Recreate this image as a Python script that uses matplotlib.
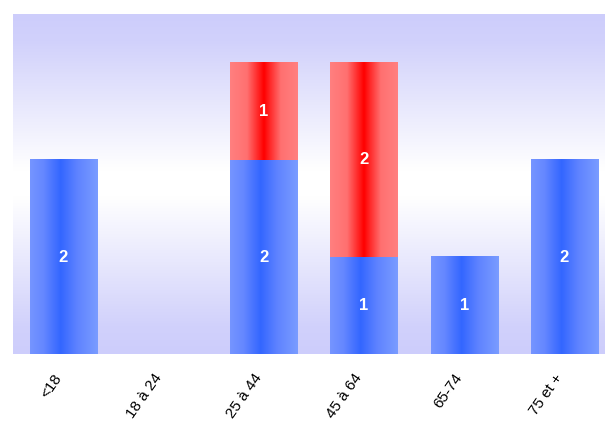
import numpy as np
import matplotlib.pyplot as plt
from matplotlib.colors import LinearSegmentedColormap
from matplotlib.transforms import ScaledTranslation

# données
categories = ['<18', '18 à 24', '25 à 44', '45 à 64', '65-74', '75 et +']
bleu = [2, 0, 2, 1, 1, 2]
rouge = [0, 0, 1, 2, 0, 0]

plt.rcParams['font.family'] = ['Liberation Sans', 'DejaVu Sans']

fig = plt.figure(figsize=(6.05, 4.28), dpi=100)
ax = fig.add_axes([13.4 / 605, (428 - 354.5) / 428, 601 / 605, 340.5 / 428])
ax.set_xlim(-0.5, len(categories) - 0.5)
ax.set_ylim(0, 3.5)

# fond dégradé vertical : lavande -> blanc -> lavande
fond = LinearSegmentedColormap.from_list(
    'fond', [(0, '#cdcdfc'), (0.08, '#d1d1fb'), (0.46, '#ffffff'), (0.54, '#ffffff'),
             (0.92, '#d1d1fb'), (1, '#cdcdfc')])
grad = np.linspace(0, 1, 256).reshape(-1, 1)
ax.imshow(grad, cmap=fond, aspect='auto', extent=(-0.5, len(categories) - 0.5, 0, 3.5),
          origin='lower', zorder=0)

cmap_bleu = LinearSegmentedColormap.from_list(
    'bleu', [(0, '#7595ff'), (0.2, '#6587ff'), (0.45, '#3366ff'), (0.7, '#5f83ff'), (1, '#7a9cff')])
cmap_rouge = LinearSegmentedColormap.from_list(
    'rouge', [(0, '#ff8080'), (0.25, '#ff7070'), (0.5, '#ff0000'), (0.75, '#ff7070'), (1, '#ff8080')])

largeur = 0.67
h = np.linspace(0, 1, 256).reshape(1, -1)


def barre(x, bas, haut, cmap):
    ax.imshow(h, cmap=cmap, aspect='auto', origin='lower', zorder=2,
              extent=(x - largeur / 2, x + largeur / 2, bas, haut))


for i, (b, r) in enumerate(zip(bleu, rouge)):
    if b > 0:
        barre(i, 0, b, cmap_bleu)
        ax.text(i, b / 2, str(b), color='white', fontweight='bold', fontsize=12,
                ha='center', va='center', zorder=3)
    if r > 0:
        barre(i, b, b + r, cmap_rouge)
        ax.text(i, b + r / 2, str(r), color='white', fontweight='bold', fontsize=12,
                ha='center', va='center', zorder=3)

ax.set_xlim(-0.5, len(categories) - 0.5)
ax.set_ylim(0, 3.5)
ax.set_xticks(range(len(categories)))
ax.set_xticklabels(categories, rotation=55, ha='right', va='center', rotation_mode='anchor',
                   fontsize=11)
ax.tick_params(axis='x', length=0, pad=15)
decal = ScaledTranslation(-5 / 100, 0, fig.dpi_scale_trans)
for lab in ax.get_xticklabels():
    lab.set_transform(lab.get_transform() + decal)
ax.set_yticks([])
for s in ax.spines.values():
    s.set_visible(False)

fig.savefig('out.png', dpi=100)
